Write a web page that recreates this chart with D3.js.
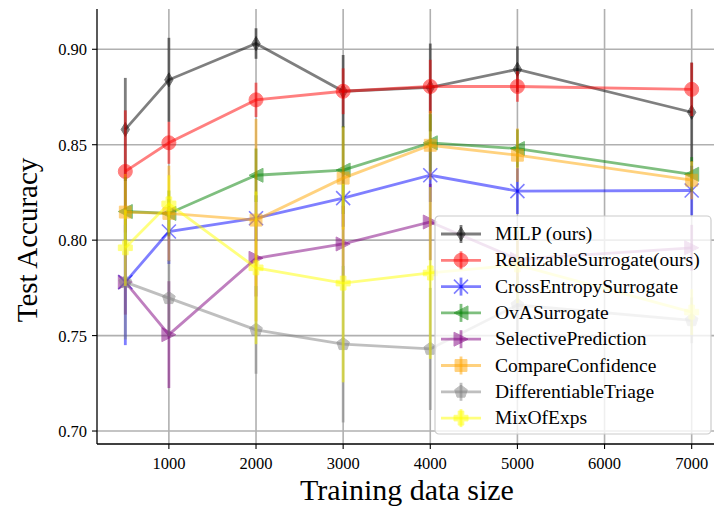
<!DOCTYPE html>
<html>
<head>
<meta charset="utf-8">
<script src="https://cdn.jsdelivr.net/npm/d3@7"></script>
<style>
body { margin: 0; background: #fff; }
text { font-family: "Liberation Serif", "DejaVu Serif", serif; }
</style>
</head>
<body>
<div id="chart"></div>
<script>
var svgWidth = 714;
var svgHeight = 508;

// chart data
var sizes = [500, 1000, 2000, 3000, 4000, 5000, 7000];
var xTicks = [1000, 2000, 3000, 4000, 5000, 6000, 7000];
var yTicks = [0.70, 0.75, 0.80, 0.85, 0.90];

var names = ["MILP (ours)", "RealizableSurrogate(ours)", "CrossEntropySurrogate", "OvASurrogate",
    "SelectivePrediction", "CompareConfidence", "DifferentiableTriage", "MixOfExps"];

var milp = [0.858, 0.884, 0.903, 0.878, 0.880, 0.8895, 0.867];
var milpErr = [0.027, 0.022, 0.008, 0.019, 0.023, 0.012, 0.026];
var realizable = [0.836, 0.851, 0.8735, 0.878, 0.8805, 0.8805, 0.879];
var realizableErr = [0.032, 0.011, 0.009, 0.012, 0.014, 0.008, 0.014];
var crossEntropy = [0.778, 0.8045, 0.8115, 0.822, 0.834, 0.8257, 0.826];
var crossEntropyErr = [0.033, 0.017, 0.012, 0.015, 0.014, 0.012, 0.013];
var ova = [0.815, 0.814, 0.834, 0.8367, 0.851, 0.848, 0.8345];
var ovaErr = [0.018, 0.012, 0.014, 0.023, 0.015, 0.01, 0.009];
var selective = [0.778, 0.7505, 0.7905, 0.798, 0.8095, 0.790, 0.796];
var selectiveErr = [0.017, 0.028, 0.02, 0.02, 0.02, 0.015, 0.012];
var compare = [0.8147, 0.814, 0.8105, 0.8325, 0.8497, 0.8445, 0.8314];
var compareErr = [0.02, 0.025, 0.053, 0.027, 0.018, 0.014, 0.01];
var triage = [0.778, 0.7696, 0.753, 0.7455, 0.743, 0.766, 0.758];
var triageErr = [0.03, 0.02, 0.023, 0.041, 0.032, 0.015, 0.012];
var mixExps = [0.796, 0.819, 0.7855, 0.7775, 0.7828, 0.787, 0.7623];
var mixExpsErr = [0.02, 0.015, 0.04, 0.052, 0.045, 0.02, 0.012];

var colors = ["black", "red", "blue", "green", "purple", "orange", "gray", "yellow"];
var markers = ["thin_diamond", "circle", "x", "tri_left", "tri_right", "square", "pentagon", "plus"];

var series = [milp, realizable, crossEntropy, ova, selective, compare, triage, mixExps];
var errors = [milpErr, realizableErr, crossEntropyErr, ovaErr, selectiveErr, compareErr, triageErr, mixExpsErr];

var margin = {top: 9, left: 97, bottom: 64};

var svg = d3.select("#chart")
    .append("svg")
    .attr("width", svgWidth)
    .attr("height", svgHeight);

// axes area runs a little past the right edge of the picture
var x = d3.scaleLinear()
    .domain([175, 7325])
    .range([margin.left, 720]);

var y = d3.scaleLinear()
    .domain([0.6932, 0.9211])
    .range([svgHeight - margin.bottom, margin.top]);

var plotTop = margin.top, plotBottom = svgHeight - margin.bottom;

// grid
var grid = svg.append("g");
grid.selectAll(".vg").data(xTicks).enter().append("line")
    .attr("x1", d => x(d)).attr("x2", d => x(d))
    .attr("y1", plotTop).attr("y2", plotBottom)
    .attr("stroke", "#b0b0b0").attr("stroke-width", 1.6);
grid.selectAll(".hg").data(yTicks).enter().append("line")
    .attr("x1", margin.left).attr("x2", svgWidth)
    .attr("y1", d => y(d)).attr("y2", d => y(d))
    .attr("stroke", "#b0b0b0").attr("stroke-width", 1.6);

// marker path generator
function markerPath(kind, s) {
    var h = s / 2;
    switch (kind) {
        case "thin_diamond":
            return `M0,${-h}L${h * 0.6},0L0,${h}L${-h * 0.6},0Z`;
        case "circle":
            return d3.symbol(d3.symbolCircle, Math.PI * h * h)();
        case "x":
            return `M${-h},${-h}L${h},${h}M${-h},${h}L${h},${-h}`;
        case "tri_left":
            return `M${-h},0L${h},${-h}L${h},${h}Z`;
        case "tri_right":
            return `M${h},0L${-h},${-h}L${-h},${h}Z`;
        case "square":
            return `M${-h * 0.85},${-h * 0.85}h${h * 1.7}v${h * 1.7}h${-h * 1.7}Z`;
        case "pentagon":
            var pts = d3.range(5).map(i => {
                var a = -Math.PI / 2 + i * 2 * Math.PI / 5;
                return [Math.cos(a) * h * 0.95, Math.sin(a) * h * 0.95];
            });
            return "M" + pts.join("L") + "Z";
        case "plus":
            var w = h * 0.4;
            return `M${-w},${-h}H${w}V${-w}H${h}V${w}H${w}V${h}H${-w}V${w}H${-h}V${-w}H${-w}Z`;
    }
}

function drawMarker(g, kind, color, cx, cy, size) {
    var p = g.append("path")
        .attr("d", markerPath(kind, size))
        .attr("transform", `translate(${cx},${cy})`)
        .attr("opacity", 0.5);
    if (kind === "x") {
        p.attr("fill", "none").attr("stroke", color).attr("stroke-width", 1.6);
    } else {
        p.attr("fill", color).attr("stroke", color).attr("stroke-width", 1);
    }
}

var line = d3.line()
    .x(d => x(d[0]))
    .y(d => y(d[1]));

var plot = svg.append("g");
series.forEach(function(vals, i) {
    var g = plot.append("g");
    var pts = sizes.map((s, j) => [s, vals[j], errors[i][j]]);
    // error bars
    g.selectAll(".err").data(pts).enter().append("line")
        .attr("x1", d => x(d[0])).attr("x2", d => x(d[0]))
        .attr("y1", d => y(d[1] - d[2])).attr("y2", d => y(d[1] + d[2]))
        .attr("stroke", colors[i]).attr("stroke-width", 2.8).attr("opacity", 0.5);
    g.append("path")
        .datum(pts)
        .attr("d", line)
        .attr("fill", "none")
        .attr("stroke", colors[i])
        .attr("stroke-width", 2.8)
        .attr("opacity", 0.5);
    pts.forEach(function(d) {
        drawMarker(g, markers[i], colors[i], x(d[0]), y(d[1]), 14);
    });
});

// spines
svg.append("line").attr("x1", margin.left).attr("x2", margin.left)
    .attr("y1", plotTop).attr("y2", plotBottom).attr("stroke", "black").attr("stroke-width", 1.3);
svg.append("line").attr("x1", margin.left).attr("x2", svgWidth)
    .attr("y1", plotBottom).attr("y2", plotBottom).attr("stroke", "black").attr("stroke-width", 1.3);

// ticks
svg.selectAll(".xt").data(xTicks).enter().append("line")
    .attr("x1", d => x(d)).attr("x2", d => x(d))
    .attr("y1", plotBottom).attr("y2", plotBottom + 5)
    .attr("stroke", "black").attr("stroke-width", 1.1);
svg.selectAll(".xl").data(xTicks).enter().append("text")
    .attr("x", d => x(d)).attr("y", plotBottom + 25)
    .attr("text-anchor", "middle").attr("font-size", 16.5)
    .text(d => d);
svg.selectAll(".yt").data(yTicks).enter().append("line")
    .attr("x1", margin.left - 5).attr("x2", margin.left)
    .attr("y1", d => y(d)).attr("y2", d => y(d))
    .attr("stroke", "black").attr("stroke-width", 1.1);
svg.selectAll(".yl").data(yTicks).enter().append("text")
    .attr("x", margin.left - 10).attr("y", d => y(d) + 6)
    .attr("text-anchor", "end").attr("font-size", 16.5)
    .text(d => d3.format(".2f")(d));

// axis labels
svg.append("text")
    .attr("transform", `translate(37, 240) rotate(-90)`)
    .attr("text-anchor", "middle").attr("font-size", 29)
    .text("Test Accuracy");
svg.append("text")
    .attr("x", 407).attr("y", 500)
    .attr("text-anchor", "middle").attr("font-size", 30)
    .text("Training data size");

// legend
var legend = svg.append("g").attr("transform", "translate(435, 216)");
legend.append("rect")
    .attr("width", 276).attr("height", 218)
    .attr("rx", 4)
    .attr("fill", "white").attr("fill-opacity", 0.8)
    .attr("stroke", "#cccccc").attr("stroke-width", 1.2);
names.forEach(function(name, i) {
    var ly = 18 + i * 26.3;
    var row = legend.append("g");
    row.append("line").attr("x1", 6).attr("x2", 46).attr("y1", ly).attr("y2", ly)
        .attr("stroke", colors[i]).attr("stroke-width", 2.8).attr("opacity", 0.5);
    row.append("line").attr("x1", 26).attr("x2", 26).attr("y1", ly - 9).attr("y2", ly + 9)
        .attr("stroke", colors[i]).attr("stroke-width", 2.8).attr("opacity", 0.5);
    drawMarker(row, markers[i], colors[i], 26, ly, 14);
    row.append("text").attr("x", 60).attr("y", ly + 6)
        .attr("font-size", 19.5).text(name);
});
</script>
</body>
</html>
